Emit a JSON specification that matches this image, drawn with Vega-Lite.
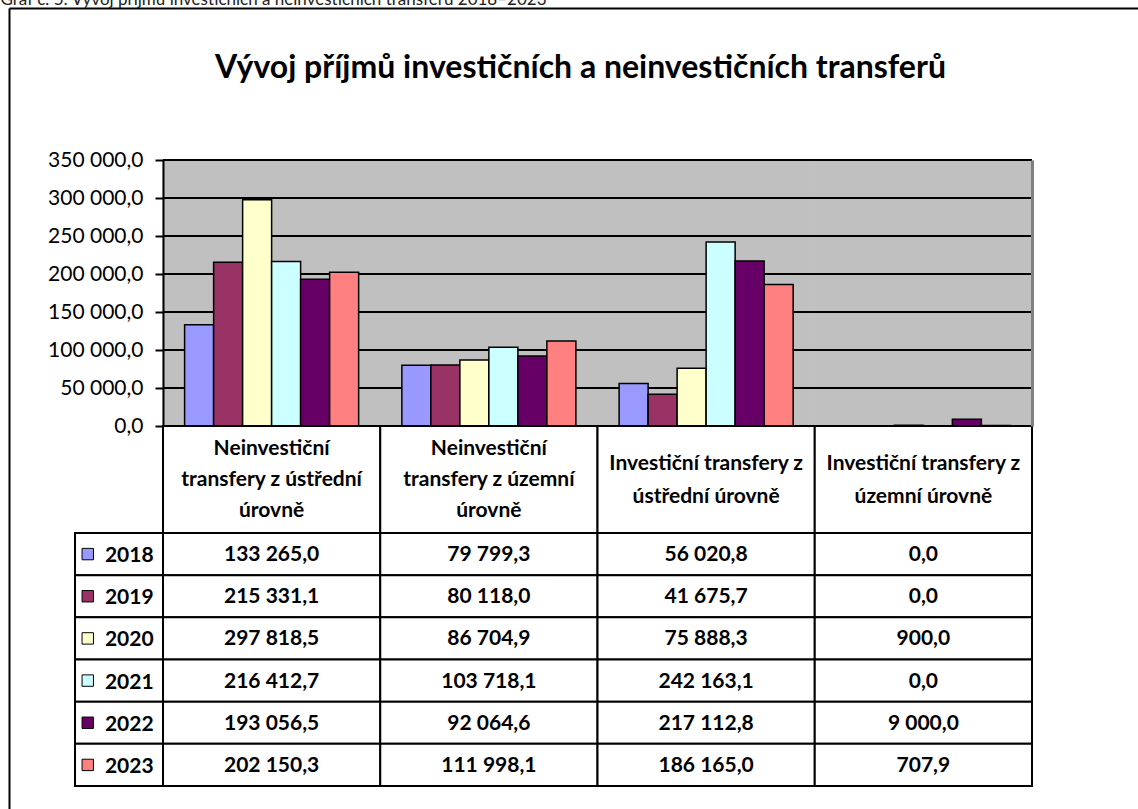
{
  "$schema": "https://vega.github.io/schema/vega-lite/v6.json",
  "width": 1129,
  "height": 801,
  "autosize": {"type": "none"},
  "padding": {"left": 9, "top": 8, "right": 0, "bottom": 0},
  "background": "white",
  "config": {
    "view": {"stroke": null},
    "locale": {"number": {"decimal": ",", "thousands": " ", "grouping": [3], "currency": ["", ""]}},
    "font": "Lato"
  },
  "datasets": {
    "vals": [
      {"cat": "NU", "year": "2018", "value": 133265.0},
      {"cat": "NZ", "year": "2018", "value": 79799.3},
      {"cat": "IU", "year": "2018", "value": 56020.8},
      {"cat": "IZ", "year": "2018", "value": 0.0},
      {"cat": "NU", "year": "2019", "value": 215331.1},
      {"cat": "NZ", "year": "2019", "value": 80118.0},
      {"cat": "IU", "year": "2019", "value": 41675.7},
      {"cat": "IZ", "year": "2019", "value": 0.0},
      {"cat": "NU", "year": "2020", "value": 297818.5},
      {"cat": "NZ", "year": "2020", "value": 86704.9},
      {"cat": "IU", "year": "2020", "value": 75888.3},
      {"cat": "IZ", "year": "2020", "value": 900.0},
      {"cat": "NU", "year": "2021", "value": 216412.7},
      {"cat": "NZ", "year": "2021", "value": 103718.1},
      {"cat": "IU", "year": "2021", "value": 242163.1},
      {"cat": "IZ", "year": "2021", "value": 0.0},
      {"cat": "NU", "year": "2022", "value": 193056.5},
      {"cat": "NZ", "year": "2022", "value": 92064.6},
      {"cat": "IU", "year": "2022", "value": 217112.8},
      {"cat": "IZ", "year": "2022", "value": 9000.0},
      {"cat": "NU", "year": "2023", "value": 202150.3},
      {"cat": "NZ", "year": "2023", "value": 111998.1},
      {"cat": "IU", "year": "2023", "value": 186165.0},
      {"cat": "IZ", "year": "2023", "value": 707.9}
    ],
    "cats": [
      {"cat": "NU", "lines": ["Neinvestiční", "transfery z ústřední", "úrovně"]},
      {"cat": "NZ", "lines": ["Neinvestiční", "transfery z územní", "úrovně"]},
      {"cat": "IU", "lines": ["Investiční transfery z", "ústřední úrovně"]},
      {"cat": "IZ", "lines": ["Investiční transfery z", "územní úrovně"]}
    ],
    "years": [
      {"year": "2018"}, {"year": "2019"}, {"year": "2020"},
      {"year": "2021"}, {"year": "2022"}, {"year": "2023"}
    ],
    "ticks": [
      {"v": 50000}, {"v": 100000}, {"v": 150000}, {"v": 200000},
      {"v": 250000}, {"v": 300000}, {"v": 350000}
    ]
  },
  "resolve": {
    "scale": {"x": "independent", "y": "independent", "color": "independent"},
    "axis": {"x": "independent", "y": "independent"}
  },
  "layer": [
    {
      "data": {"name": "years"},
      "mark": {"type": "point", "opacity": 0},
      "encoding": {
        "x": {
          "datum": 0, "type": "quantitative",
          "scale": {"domain": [0, 1], "range": [0, 1129], "nice": false, "zero": false},
          "axis": {
            "orient": "top", "offset": 0, "labels": false, "ticks": false, "grid": false,
            "domain": true, "domainColor": "black", "domainWidth": 2,
            "title": "Graf č. 5: Vývoj příjmů investičních a neinvestičních transferů 2018–2023",
            "titleFont": "Lato", "titleFontSize": 17, "titleFontWeight": "normal", "titleColor": "#222222",
            "titleX": -9, "titleY": -4, "titleAlign": "left", "titleBaseline": "alphabetic", "zindex": 1
          }
        },
        "y": {
          "datum": 0, "type": "quantitative",
          "scale": {"domain": [0, 1], "range": [0, 801], "nice": false, "zero": false},
          "axis": {
            "orient": "left", "offset": 0, "labels": false, "ticks": false, "grid": false,
            "domain": true, "domainColor": "black", "domainWidth": 2, "title": null, "zindex": 1
          }
        }
      }
    },
    {
      "data": {"name": "cats"},
      "mark": {"type": "rect", "fill": "#C0C0C0", "stroke": "#C0C0C0", "strokeWidth": 1},
      "encoding": {
        "x": {
          "field": "cat", "type": "nominal",
          "scale": {"type": "band", "domain": ["NU", "NZ", "IU", "IZ"], "range": [154, 1023], "paddingInner": 0, "paddingOuter": 0},
          "axis": {
            "orient": "top", "offset": -152,
            "title": "Vývoj příjmů investičních a neinvestičních transferů",
            "labels": false, "ticks": false, "domain": false, "grid": false,
            "titleFont": "Lato", "titleFontSize": 32, "titleFontWeight": "bold", "titleColor": "black",
            "titleX": 571, "titleY": -83, "titleBaseline": "alphabetic", "titleAlign": "center"
          }
        },
        "y": {"datum": 350000, "type": "quantitative", "scale": {"domain": [0, 350000], "range": [418, 152], "nice": false, "zero": true}, "axis": null},
        "y2": {"datum": 0}
      }
    },
    {
      "data": {"name": "ticks"},
      "mark": {"type": "rule", "color": "black", "strokeWidth": 2},
      "encoding": {
        "x": {"datum": 0, "type": "quantitative", "scale": {"domain": [0, 1], "range": [154, 1023], "nice": false, "zero": false}, "axis": null},
        "x2": {"datum": 1},
        "y": {
          "field": "v", "type": "quantitative",
          "scale": {"domain": [0, 350000], "range": [418, 152], "nice": false, "zero": true},
          "axis": {
            "orient": "right", "offset": -106, "labels": false, "ticks": false, "grid": false,
            "domain": true, "domainColor": "#808080", "domainWidth": 3, "title": null, "zindex": 1
          }
        }
      }
    },
    {
      "data": {"name": "vals"},
      "transform": [{"filter": "datum.value > 0"}],
      "mark": {"type": "bar", "stroke": "black", "strokeWidth": 1.5},
      "encoding": {
        "x": {
          "field": "cat", "type": "nominal",
          "scale": {"type": "band", "domain": ["NU", "NZ", "IU", "IZ"], "range": [154, 1023], "paddingInner": 0, "paddingOuter": 0},
          "axis": null
        },
        "xOffset": {"field": "year", "type": "nominal", "scale": {"domain": ["2018", "2019", "2020", "2021", "2022", "2023"], "paddingInner": 0, "paddingOuter": 0.745}},
        "y": {
          "field": "value", "type": "quantitative",
          "scale": {"domain": [0, 350000], "range": [418, 152], "nice": false, "zero": true},
          "axis": {
            "orient": "left", "offset": -154,
            "values": [0, 50000, 100000, 150000, 200000, 250000, 300000, 350000],
            "format": ",.1f", "grid": false, "title": null,
            "domainColor": "black", "domainWidth": 2,
            "tickColor": "black", "tickWidth": 2, "tickSize": 8,
            "labelFont": "Lato", "labelFontSize": 21, "labelColor": "black", "labelPadding": 12,
            "labelFlush": false, "labelOverlap": false, "zindex": 1
          }
        },
        "color": {
          "field": "year", "type": "nominal",
          "scale": {"domain": ["2018", "2019", "2020", "2021", "2022", "2023"], "range": ["#9999FF", "#993366", "#FFFFCC", "#CCFFFF", "#660066", "#FF8080"]},
          "legend": null
        }
      }
    },
    {
      "data": {"name": "cats"},
      "encoding": {
        "x": {
          "field": "cat", "type": "nominal",
          "scale": {"type": "band", "domain": ["NU", "NZ", "IU", "IZ"], "range": [154, 1023], "paddingInner": 0, "paddingOuter": 0},
          "axis": null
        },
        "y": {"datum": "h", "type": "nominal", "scale": {"type": "band", "domain": ["h"], "range": [418, 525], "paddingInner": 0, "paddingOuter": 0}, "axis": null}
      },
      "layer": [
        {"mark": {"type": "rect", "fill": "white", "stroke": "black", "strokeWidth": 2}},
        {
          "transform": [{"filter": "length(datum.lines) == 3"}],
          "mark": {"type": "text", "font": "Lato", "fontSize": 21, "fontWeight": "bold", "lineHeight": 31, "baseline": "alphabetic", "align": "center", "color": "black", "dy": -24.5},
          "encoding": {"text": {"field": "lines"}}
        },
        {
          "transform": [{"filter": "length(datum.lines) == 2"}],
          "mark": {"type": "text", "font": "Lato", "fontSize": 21, "fontWeight": "bold", "lineHeight": 33, "baseline": "alphabetic", "align": "center", "color": "black", "dy": -9.5},
          "encoding": {"text": {"field": "lines"}}
        }
      ]
    },
    {
      "data": {"name": "vals"},
      "encoding": {
        "x": {
          "field": "cat", "type": "nominal",
          "scale": {"type": "band", "domain": ["NU", "NZ", "IU", "IZ"], "range": [154, 1023], "paddingInner": 0, "paddingOuter": 0},
          "axis": null
        },
        "y": {"field": "year", "type": "nominal", "scale": {"type": "band", "domain": ["2018", "2019", "2020", "2021", "2022", "2023"], "range": [525, 778], "paddingInner": 0, "paddingOuter": 0}, "axis": null}
      },
      "layer": [
        {"mark": {"type": "rect", "fill": "white", "stroke": "black", "strokeWidth": 2}},
        {
          "mark": {"type": "text", "font": "Lato", "fontSize": 21, "fontWeight": "bold", "baseline": "middle", "align": "center", "color": "black", "dy": 1},
          "encoding": {"text": {"field": "value", "type": "quantitative", "format": ",.1f"}}
        }
      ]
    },
    {
      "data": {"name": "years"},
      "encoding": {
        "y": {"field": "year", "type": "nominal", "scale": {"type": "band", "domain": ["2018", "2019", "2020", "2021", "2022", "2023"], "range": [525, 778], "paddingInner": 0, "paddingOuter": 0}, "axis": null}
      },
      "layer": [
        {
          "mark": {"type": "rect", "fill": "white", "stroke": "black", "strokeWidth": 2},
          "encoding": {
            "x": {"datum": "L", "type": "nominal", "scale": {"type": "band", "domain": ["L"], "range": [66, 154], "paddingInner": 0, "paddingOuter": 0}, "axis": null}
          }
        },
        {
          "mark": {"type": "point", "shape": "square", "filled": true, "size": 130, "stroke": "black", "strokeWidth": 1, "opacity": 1},
          "encoding": {
            "x": {"datum": "L", "type": "nominal", "bandPosition": 0.145},
            "color": {
              "field": "year", "type": "nominal",
              "scale": {"domain": ["2018", "2019", "2020", "2021", "2022", "2023"], "range": ["#9999FF", "#993366", "#FFFFCC", "#CCFFFF", "#660066", "#FF8080"]},
              "legend": null
            }
          }
        },
        {
          "mark": {"type": "text", "font": "Lato", "fontSize": 21, "fontWeight": "bold", "baseline": "middle", "align": "left", "color": "black", "dy": 2},
          "encoding": {
            "x": {"datum": "L", "type": "nominal", "bandPosition": 0.34},
            "text": {"field": "year", "type": "nominal"}
          }
        }
      ]
    }
  ]
}
